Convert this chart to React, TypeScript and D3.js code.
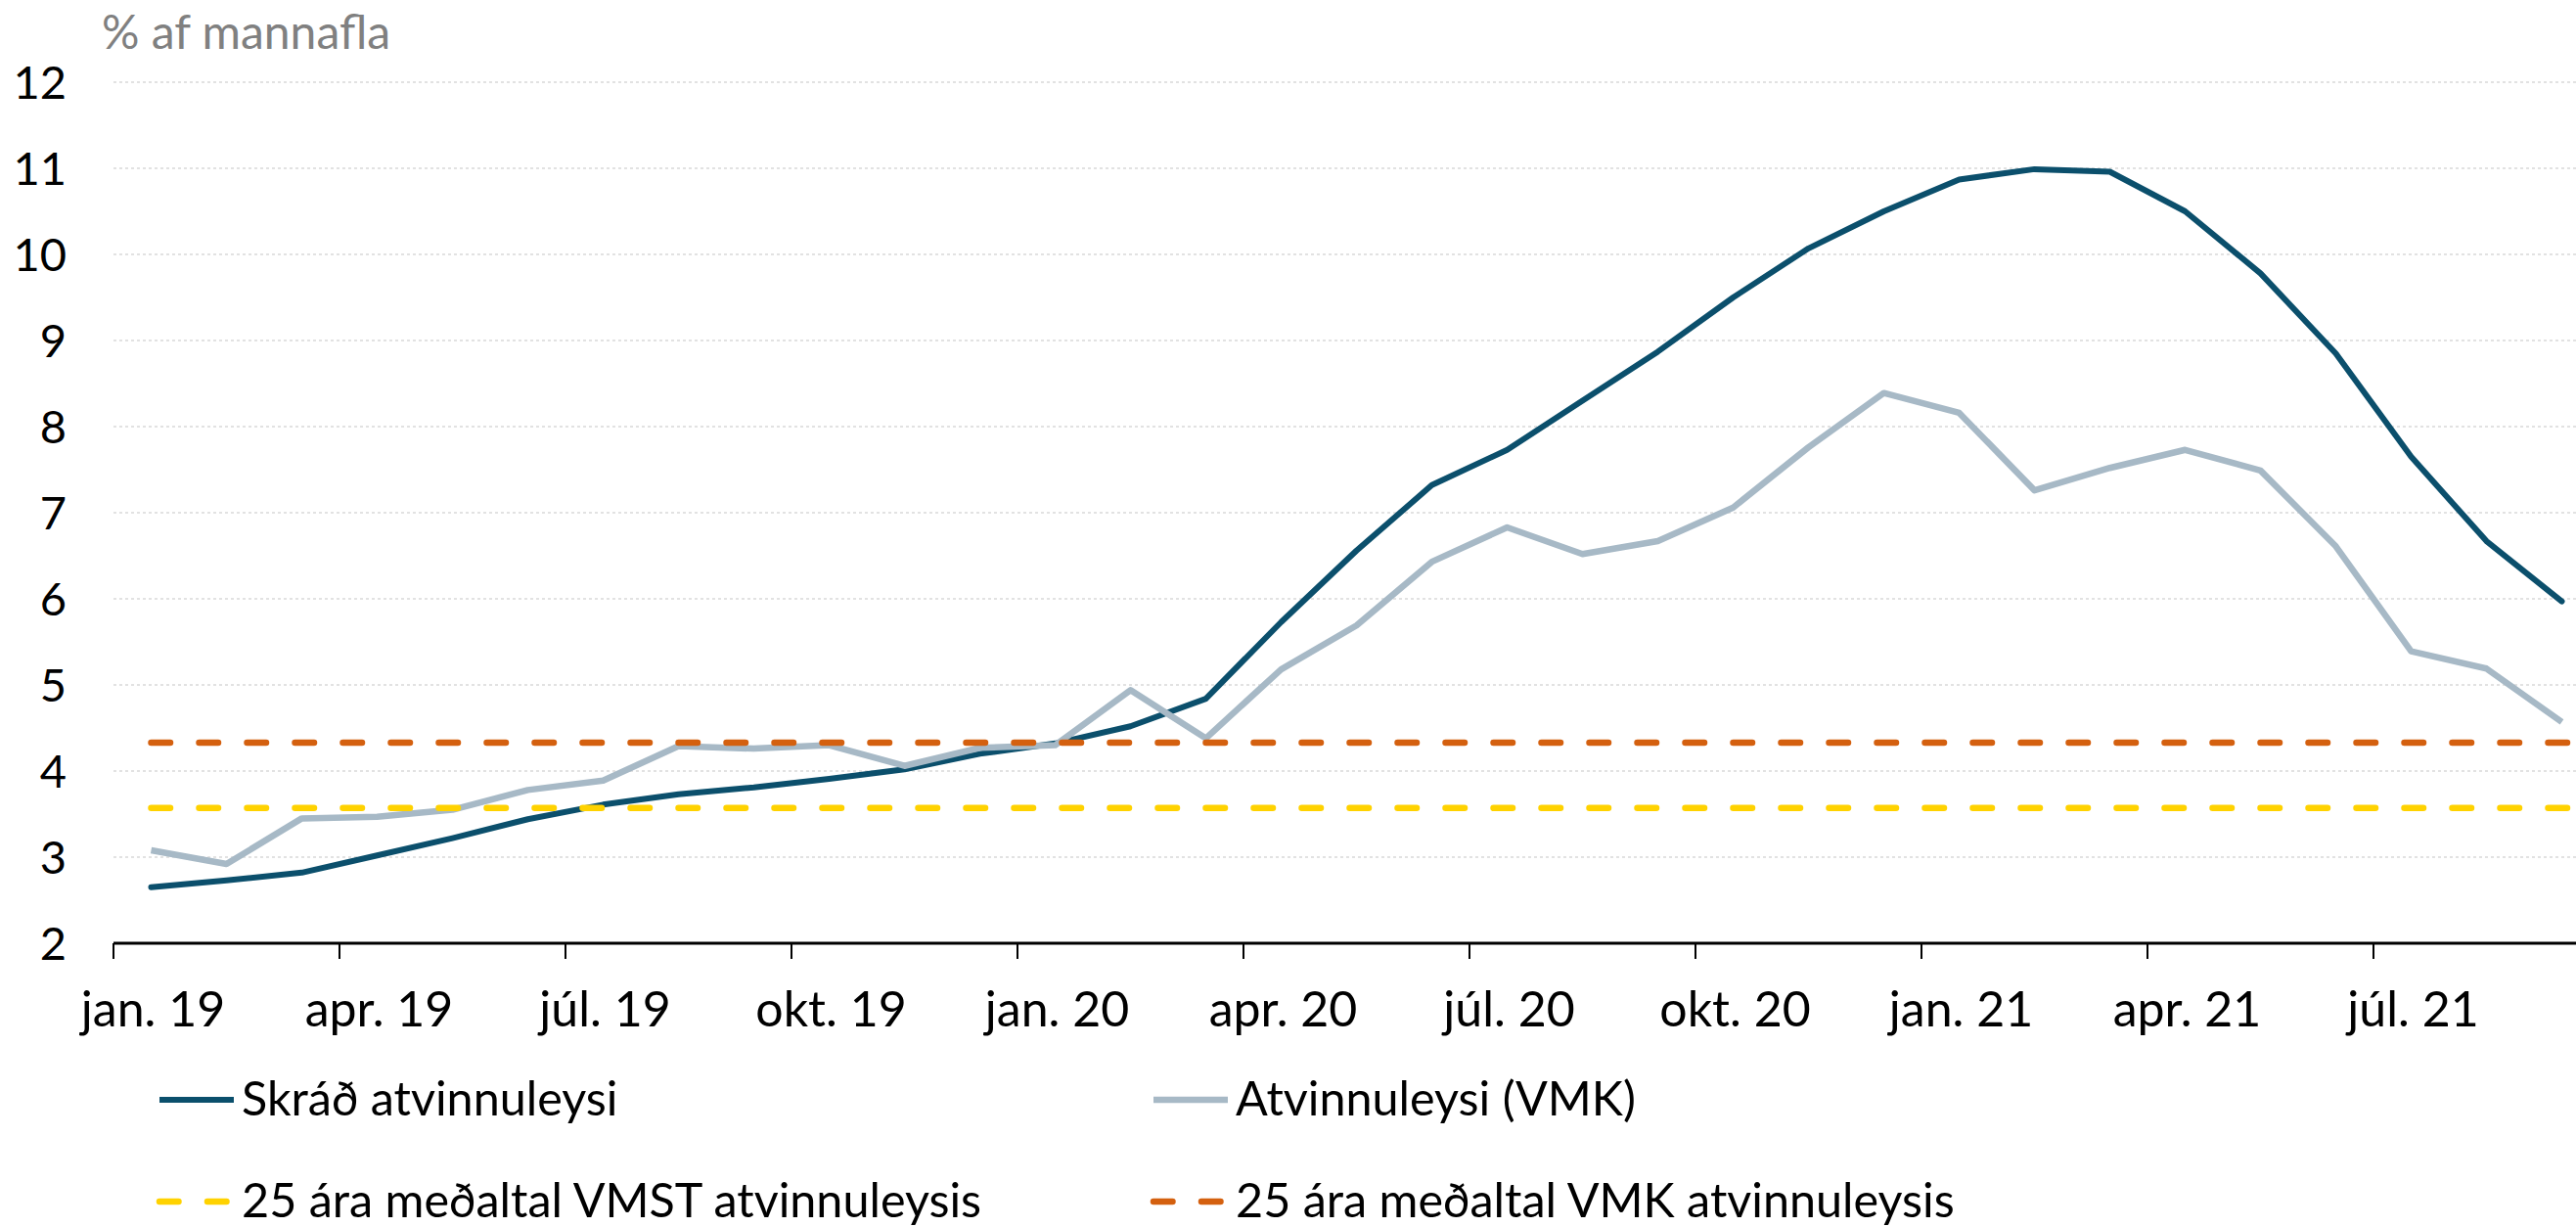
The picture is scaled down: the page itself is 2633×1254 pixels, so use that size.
import React, { useEffect, useRef } from "react";
import * as d3 from "d3";

const months = [
  "jan. 19", "feb. 19", "mar. 19", "apr. 19", "maí 19", "jún. 19",
  "júl. 19", "ágú. 19", "sep. 19", "okt. 19", "nóv. 19", "des. 19",
  "jan. 20", "feb. 20", "mar. 20", "apr. 20", "maí 20", "jún. 20",
  "júl. 20", "ágú. 20", "sep. 20", "okt. 20", "nóv. 20", "des. 20",
  "jan. 21", "feb. 21", "mar. 21", "apr. 21", "maí 21", "jún. 21",
  "júl. 21", "ágú. 21", "sep. 21",
];

// Skráð atvinnuleysi
const skrad = [
  2.65, 2.73, 2.82, 3.02, 3.22, 3.44, 3.61, 3.73, 3.81, 3.91, 4.02, 4.2,
  4.32, 4.52, 4.84, 5.73, 6.56, 7.32, 7.73, 8.3, 8.87, 9.5, 10.07, 10.5,
  10.87, 10.99, 10.96, 10.5, 9.78, 8.85, 7.65, 6.67, 5.97,
];

// Atvinnuleysi (VMK)
const vmk = [
  3.08, 2.92, 3.45, 3.47, 3.55, 3.78, 3.89, 4.29, 4.26, 4.3, 4.06, 4.27,
  4.3, 4.94, 4.38, 5.18, 5.69, 6.43, 6.83, 6.52, 6.67, 7.06, 7.76, 8.39,
  8.16, 7.26, 7.52, 7.73, 7.49, 6.61, 5.39, 5.19, 4.57,
];

const vmstAvg = 3.57;
const vmkAvg = 4.33;

const yTicks = [2, 3, 4, 5, 6, 7, 8, 9, 10, 11, 12];

const FONT = "Lato, 'Open Sans', sans-serif";
const DARK = "#0b4f6c";
const LIGHT = "#a7b9c6";
const YELLOW = "#ffd200";
const ORANGE = "#d4600f";
const DASH = "19.5 29.5";

export default function App() {
  const svgRef = useRef<SVGSVGElement>(null);

  useEffect(() => {
    const width = 2633;
    const height = 1254;
    const left = 116;
    const step = 77;

    const svg = d3.select(svgRef.current);
    svg.selectAll("*").remove();
    svg.attr("width", width).attr("height", height);

    const x = d3
      .scaleBand<string>()
      .domain(months)
      .range([left, left + months.length * step])
      .padding(0);
    const cx = (m: string) => (x(m) as number) + x.bandwidth() / 2;

    const y = d3.scaleLinear().domain([2, 12]).range([964, 84]);

    // gridlines
    svg
      .append("g")
      .selectAll("line")
      .data(yTicks.filter((t) => t > 2))
      .enter()
      .append("line")
      .attr("x1", left)
      .attr("x2", width)
      .attr("y1", (d) => y(d))
      .attr("y2", (d) => y(d))
      .attr("stroke", "#d9d9d9")
      .attr("stroke-width", 1.5)
      .attr("stroke-dasharray", "3 3");

    // y labels
    svg
      .append("g")
      .selectAll("text")
      .data(yTicks)
      .enter()
      .append("text")
      .attr("x", 68)
      .attr("y", (d) => y(d))
      .attr("dy", "0.36em")
      .attr("text-anchor", "end")
      .style("font-family", FONT)
      .style("font-size", "47px")
      .attr("fill", "#000")
      .text((d) => d);

    // title
    svg
      .append("text")
      .attr("x", 104)
      .attr("y", 50)
      .style("font-family", FONT)
      .style("font-size", "48px")
      .attr("fill", "#808080")
      .text("% af mannafla");

    // x axis
    const xAxis = svg.append("g");
    xAxis
      .append("line")
      .attr("x1", left)
      .attr("x2", width)
      .attr("y1", y(2))
      .attr("y2", y(2))
      .attr("stroke", "#000")
      .attr("stroke-width", 3);

    const quarterMonths = months.filter((_, i) => i % 3 === 0);
    xAxis
      .selectAll("line.tick")
      .data(quarterMonths)
      .enter()
      .append("line")
      .attr("class", "tick")
      .attr("x1", (d) => x(d) as number)
      .attr("x2", (d) => x(d) as number)
      .attr("y1", y(2))
      .attr("y2", y(2) + 16)
      .attr("stroke", "#000")
      .attr("stroke-width", 2);

    xAxis
      .selectAll("text")
      .data(quarterMonths)
      .enter()
      .append("text")
      .attr("x", (d) => cx(d) + 2)
      .attr("y", 1049)
      .attr("text-anchor", "middle")
      .style("font-family", FONT)
      .style("font-size", "50px")
      .attr("fill", "#000")
      .text((d) => d);

    // series
    const line = d3
      .line<number>()
      .x((_, i) => cx(months[i]))
      .y((d) => y(d));

    svg
      .append("path")
      .datum(skrad)
      .attr("d", line)
      .attr("fill", "none")
      .attr("stroke", DARK)
      .attr("stroke-width", 6)
      .attr("stroke-linejoin", "round")
      .attr("stroke-linecap", "round");

    svg
      .append("path")
      .datum(vmk)
      .attr("d", line)
      .attr("fill", "none")
      .attr("stroke", LIGHT)
      .attr("stroke-width", 6.5)
      .attr("stroke-linejoin", "round");

    const avgLines = [
      { value: vmstAvg, color: YELLOW },
      { value: vmkAvg, color: ORANGE },
    ];
    svg
      .append("g")
      .selectAll("line")
      .data(avgLines)
      .enter()
      .append("line")
      .attr("x1", cx(months[0]))
      .attr("x2", width + 10)
      .attr("y1", (d) => y(d.value))
      .attr("y2", (d) => y(d.value))
      .attr("stroke", (d) => d.color)
      .attr("stroke-width", 6.5)
      .attr("stroke-linecap", "round")
      .attr("stroke-dasharray", DASH);

    // legend
    const legendItems = [
      { label: "Skráð atvinnuleysi", color: DARK, dash: null, x: 163, y: 1124, w: 6 },
      { label: "Atvinnuleysi (VMK)", color: LIGHT, dash: null, x: 1179, y: 1124, w: 6.5 },
      { label: "25 ára meðaltal VMST atvinnuleysis", color: YELLOW, dash: DASH, x: 163, y: 1228, w: 6.5 },
      { label: "25 ára meðaltal VMK atvinnuleysis", color: ORANGE, dash: DASH, x: 1179, y: 1228, w: 6.5 },
    ];
    const lg = svg
      .append("g")
      .selectAll("g")
      .data(legendItems)
      .enter()
      .append("g")
      .attr("transform", (d) => `translate(${d.x},${d.y})`);
    lg.append("line")
      .attr("x1", 0)
      .attr("x2", 76)
      .attr("stroke", (d) => d.color)
      .attr("stroke-width", (d) => d.w)
      .attr("stroke-linecap", (d) => (d.dash ? "round" : "butt"))
      .attr("stroke-dasharray", (d) => d.dash);
    lg.append("text")
      .attr("x", 84)
      .attr("y", 16)
      .style("font-family", FONT)
      .style("font-size", "48.5px")
      .attr("fill", "#000")
      .text((d) => d.label);
  }, []);

  return (
    <svg
      ref={svgRef}
      style={{ position: "absolute", left: 0, top: 0, display: "block", background: "#fff" }}
    />
  );
}
